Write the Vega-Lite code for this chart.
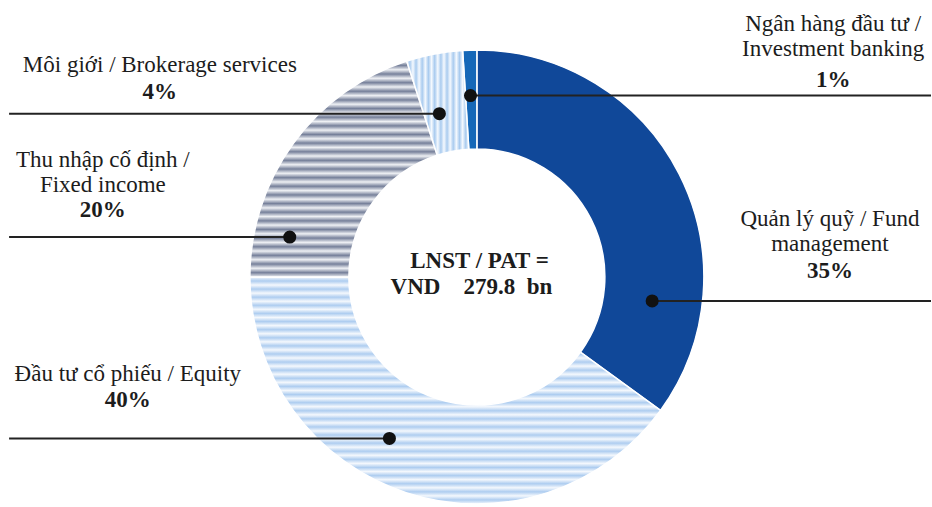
{
  "$schema": "https://vega.github.io/schema/vega-lite/v6.json",
  "width": 932,
  "height": 507,
  "autosize": {"type": "fit", "contains": "padding"},
  "padding": 0,
  "background": "white",
  "config": {"view": {"stroke": null}, "text": {"font": "Liberation Serif", "fontSize": 23, "color": "#1c1c1c"}},
  "datasets": {
    "segments": [
      {"name": ["Quản lý quỹ / Fund", "management"], "key": "Fund", "pct": 0.35, "order": 1, "side": "right", "dot_x": 0.772, "dot_y": -0.106, "label_x": 1.555, "name_y": 0.255, "pct_y": 0.026},
      {"name": ["Đầu tư cổ phiếu / Equity"], "key": "Equity", "pct": 0.40, "order": 2, "side": "left", "dot_x": -0.385, "dot_y": -0.713, "label_x": -1.537, "name_y": -0.427, "pct_y": -0.545},
      {"name": ["Thu nhập cố định /", "Fixed income"], "key": "Fixed", "pct": 0.20, "order": 3, "side": "left", "dot_x": -0.824, "dot_y": 0.176, "label_x": -1.647, "name_y": 0.518, "pct_y": 0.295},
      {"name": ["Môi giới / Brokerage services"], "key": "Brokerage", "pct": 0.04, "order": 4, "side": "left", "dot_x": -0.165, "dot_y": 0.721, "label_x": -1.396, "name_y": 0.937, "pct_y": 0.818},
      {"name": ["Ngân hàng đầu tư /", "Investment banking"], "key": "IB", "pct": 0.01, "order": 5, "side": "right", "dot_x": -0.028, "dot_y": 0.801, "label_x": 1.569, "name_y": 1.117, "pct_y": 0.871}
    ],
    "center": [
      {"line": "LNST / PAT =", "cx": 0.012, "cy": 0.07},
      {"line": "VND\u00a0\u00a0\u00a0\u00a0279.8\u00a0\u00a0bn", "cx": -0.024, "cy": -0.044}
    ]
  },
  "layer": [
    {
      "data": {"name": "segments"},
      "transform": [
        {"stack": "pct", "groupby": [], "sort": [{"field": "order", "order": "ascending"}], "as": ["t0", "t1"]},
        {"filter": "datum.key === 'Fund' || datum.key === 'IB'"}
      ],
      "mark": {"type": "arc", "outerRadius": 227, "innerRadius": 128, "stroke": "white", "strokeWidth": 1.5},
      "encoding": {
        "theta": {"field": "t0", "type": "quantitative", "scale": {"domain": [0, 1]}},
        "theta2": {"field": "t1"},
        "color": {"field": "key", "type": "nominal", "legend": null,
          "scale": {"domain": ["Fund", "IB"], "range": ["#104899", "#1668b8"]}},
        "x": {"datum": 0, "type": "quantitative", "scale": {"domain": [-2.1, 2.0], "nice": false, "zero": false}, "axis": null},
        "y": {"datum": 0, "type": "quantitative", "scale": {"domain": [-1.007, 1.223], "nice": false, "zero": false}, "axis": null}
      }
    },
    {
      "data": {"name": "segments"},
      "transform": [
        {"stack": "pct", "groupby": [], "sort": [{"field": "order", "order": "ascending"}], "as": ["t0", "t1"]},
        {"filter": "datum.key === 'Equity'"}
      ],
      "mark": {"type": "arc", "outerRadius": 227, "innerRadius": 128, "stroke": "white", "strokeWidth": 1.5,
        "fill": {"gradient": "linear", "x1": 0, "y1": 0, "x2": 0, "y2": 1, "stops": [
          {"offset": 0, "color": "#f4f8fd"}, {"offset": 0.0179, "color": "#aecdf0"}, {"offset": 0.0357, "color": "#f4f8fd"}, {"offset": 0.0536, "color": "#aecdf0"},
          {"offset": 0.0714, "color": "#f4f8fd"}, {"offset": 0.0893, "color": "#aecdf0"}, {"offset": 0.1071, "color": "#f4f8fd"}, {"offset": 0.125, "color": "#aecdf0"},
          {"offset": 0.1429, "color": "#f4f8fd"}, {"offset": 0.1607, "color": "#aecdf0"}, {"offset": 0.1786, "color": "#f4f8fd"}, {"offset": 0.1964, "color": "#aecdf0"},
          {"offset": 0.2143, "color": "#f4f8fd"}, {"offset": 0.2321, "color": "#aecdf0"}, {"offset": 0.25, "color": "#f4f8fd"}, {"offset": 0.2679, "color": "#aecdf0"},
          {"offset": 0.2857, "color": "#f4f8fd"}, {"offset": 0.3036, "color": "#aecdf0"}, {"offset": 0.3214, "color": "#f4f8fd"}, {"offset": 0.3393, "color": "#aecdf0"},
          {"offset": 0.3571, "color": "#f4f8fd"}, {"offset": 0.375, "color": "#aecdf0"}, {"offset": 0.3929, "color": "#f4f8fd"}, {"offset": 0.4107, "color": "#aecdf0"},
          {"offset": 0.4286, "color": "#f4f8fd"}, {"offset": 0.4464, "color": "#aecdf0"}, {"offset": 0.4643, "color": "#f4f8fd"}, {"offset": 0.4821, "color": "#aecdf0"},
          {"offset": 0.5, "color": "#f4f8fd"}, {"offset": 0.5179, "color": "#aecdf0"}, {"offset": 0.5357, "color": "#f4f8fd"}, {"offset": 0.5536, "color": "#aecdf0"},
          {"offset": 0.5714, "color": "#f4f8fd"}, {"offset": 0.5893, "color": "#aecdf0"}, {"offset": 0.6071, "color": "#f4f8fd"}, {"offset": 0.625, "color": "#aecdf0"},
          {"offset": 0.6429, "color": "#f4f8fd"}, {"offset": 0.6607, "color": "#aecdf0"}, {"offset": 0.6786, "color": "#f4f8fd"}, {"offset": 0.6964, "color": "#aecdf0"},
          {"offset": 0.7143, "color": "#f4f8fd"}, {"offset": 0.7321, "color": "#aecdf0"}, {"offset": 0.75, "color": "#f4f8fd"}, {"offset": 0.7679, "color": "#aecdf0"},
          {"offset": 0.7857, "color": "#f4f8fd"}, {"offset": 0.8036, "color": "#aecdf0"}, {"offset": 0.8214, "color": "#f4f8fd"}, {"offset": 0.8393, "color": "#aecdf0"},
          {"offset": 0.8571, "color": "#f4f8fd"}, {"offset": 0.875, "color": "#aecdf0"}, {"offset": 0.8929, "color": "#f4f8fd"}, {"offset": 0.9107, "color": "#aecdf0"},
          {"offset": 0.9286, "color": "#f4f8fd"}, {"offset": 0.9464, "color": "#aecdf0"}, {"offset": 0.9643, "color": "#f4f8fd"}, {"offset": 0.9821, "color": "#aecdf0"},
          {"offset": 1, "color": "#f4f8fd"}
        ]}},
      "encoding": {
        "theta": {"field": "t0", "type": "quantitative"},
        "theta2": {"field": "t1"},
        "x": {"datum": 0, "type": "quantitative"},
        "y": {"datum": 0, "type": "quantitative"}
      }
    },
    {
      "data": {"name": "segments"},
      "transform": [
        {"stack": "pct", "groupby": [], "sort": [{"field": "order", "order": "ascending"}], "as": ["t0", "t1"]},
        {"filter": "datum.key === 'Fixed'"}
      ],
      "mark": {"type": "arc", "outerRadius": 227, "innerRadius": 128, "stroke": "white", "strokeWidth": 1.5,
        "fill": {"gradient": "linear", "x1": 0, "y1": 0, "x2": 0, "y2": 1, "stops": [
          {"offset": 0, "color": "#eef0f4"}, {"offset": 0.02, "color": "#76809a"}, {"offset": 0.04, "color": "#eef0f4"}, {"offset": 0.06, "color": "#76809a"},
          {"offset": 0.08, "color": "#eef0f4"}, {"offset": 0.1, "color": "#76809a"}, {"offset": 0.12, "color": "#eef0f4"}, {"offset": 0.14, "color": "#76809a"},
          {"offset": 0.16, "color": "#eef0f4"}, {"offset": 0.18, "color": "#76809a"}, {"offset": 0.2, "color": "#eef0f4"}, {"offset": 0.22, "color": "#76809a"},
          {"offset": 0.24, "color": "#eef0f4"}, {"offset": 0.26, "color": "#76809a"}, {"offset": 0.28, "color": "#eef0f4"}, {"offset": 0.3, "color": "#76809a"},
          {"offset": 0.32, "color": "#eef0f4"}, {"offset": 0.34, "color": "#76809a"}, {"offset": 0.36, "color": "#eef0f4"}, {"offset": 0.38, "color": "#76809a"},
          {"offset": 0.4, "color": "#eef0f4"}, {"offset": 0.42, "color": "#76809a"}, {"offset": 0.44, "color": "#eef0f4"}, {"offset": 0.46, "color": "#76809a"},
          {"offset": 0.48, "color": "#eef0f4"}, {"offset": 0.5, "color": "#76809a"}, {"offset": 0.52, "color": "#eef0f4"}, {"offset": 0.54, "color": "#76809a"},
          {"offset": 0.56, "color": "#eef0f4"}, {"offset": 0.58, "color": "#76809a"}, {"offset": 0.6, "color": "#eef0f4"}, {"offset": 0.62, "color": "#76809a"},
          {"offset": 0.64, "color": "#eef0f4"}, {"offset": 0.66, "color": "#76809a"}, {"offset": 0.68, "color": "#eef0f4"}, {"offset": 0.7, "color": "#76809a"},
          {"offset": 0.72, "color": "#eef0f4"}, {"offset": 0.74, "color": "#76809a"}, {"offset": 0.76, "color": "#eef0f4"}, {"offset": 0.78, "color": "#76809a"},
          {"offset": 0.8, "color": "#eef0f4"}, {"offset": 0.82, "color": "#76809a"}, {"offset": 0.84, "color": "#eef0f4"}, {"offset": 0.86, "color": "#76809a"},
          {"offset": 0.88, "color": "#eef0f4"}, {"offset": 0.9, "color": "#76809a"}, {"offset": 0.92, "color": "#eef0f4"}, {"offset": 0.94, "color": "#76809a"},
          {"offset": 0.96, "color": "#eef0f4"}, {"offset": 0.98, "color": "#76809a"}, {"offset": 1, "color": "#eef0f4"}
        ]}},
      "encoding": {
        "theta": {"field": "t0", "type": "quantitative"},
        "theta2": {"field": "t1"},
        "x": {"datum": 0, "type": "quantitative"},
        "y": {"datum": 0, "type": "quantitative"}
      }
    },
    {
      "data": {"name": "segments"},
      "transform": [
        {"stack": "pct", "groupby": [], "sort": [{"field": "order", "order": "ascending"}], "as": ["t0", "t1"]},
        {"filter": "datum.key === 'Brokerage'"}
      ],
      "mark": {"type": "arc", "outerRadius": 227, "innerRadius": 128, "stroke": "white", "strokeWidth": 1.5,
        "fill": {"gradient": "linear", "x1": 0, "y1": 0, "x2": 1, "y2": 0, "stops": [
          {"offset": 0, "color": "#f5f9fe"}, {"offset": 0.05, "color": "#a9cbef"}, {"offset": 0.1, "color": "#f5f9fe"}, {"offset": 0.15, "color": "#a9cbef"},
          {"offset": 0.2, "color": "#f5f9fe"}, {"offset": 0.25, "color": "#a9cbef"}, {"offset": 0.3, "color": "#f5f9fe"}, {"offset": 0.35, "color": "#a9cbef"},
          {"offset": 0.4, "color": "#f5f9fe"}, {"offset": 0.45, "color": "#a9cbef"}, {"offset": 0.5, "color": "#f5f9fe"}, {"offset": 0.55, "color": "#a9cbef"},
          {"offset": 0.6, "color": "#f5f9fe"}, {"offset": 0.65, "color": "#a9cbef"}, {"offset": 0.7, "color": "#f5f9fe"}, {"offset": 0.75, "color": "#a9cbef"},
          {"offset": 0.8, "color": "#f5f9fe"}, {"offset": 0.85, "color": "#a9cbef"}, {"offset": 0.9, "color": "#f5f9fe"}, {"offset": 0.95, "color": "#a9cbef"},
          {"offset": 1, "color": "#f5f9fe"}
        ]}},
      "encoding": {
        "theta": {"field": "t0", "type": "quantitative"},
        "theta2": {"field": "t1"},
        "x": {"datum": 0, "type": "quantitative"},
        "y": {"datum": 0, "type": "quantitative"}
      }
    },
    {
      "data": {"name": "segments"},
      "transform": [{"filter": "datum.side === 'left'"}],
      "mark": {"type": "rule", "strokeWidth": 2, "color": "#222222"},
      "encoding": {
        "x": {"field": "dot_x", "type": "quantitative"},
        "x2": {"datum": -2.06},
        "y": {"field": "dot_y", "type": "quantitative"}
      }
    },
    {
      "data": {"name": "segments"},
      "transform": [{"filter": "datum.side === 'right'"}],
      "mark": {"type": "rule", "strokeWidth": 2, "color": "#222222"},
      "encoding": {
        "x": {"field": "dot_x", "type": "quantitative"},
        "x2": {"datum": 2.0},
        "y": {"field": "dot_y", "type": "quantitative"}
      }
    },
    {
      "data": {"name": "segments"},
      "mark": {"type": "circle", "size": 170, "opacity": 1, "color": "#111111"},
      "encoding": {
        "x": {"field": "dot_x", "type": "quantitative"},
        "y": {"field": "dot_y", "type": "quantitative"}
      }
    },
    {
      "data": {"name": "segments"},
      "mark": {"type": "text", "align": "center", "baseline": "middle", "lineHeight": 25},
      "encoding": {
        "x": {"field": "label_x", "type": "quantitative"},
        "y": {"field": "name_y", "type": "quantitative"},
        "text": {"field": "name"}
      }
    },
    {
      "data": {"name": "segments"},
      "mark": {"type": "text", "align": "center", "baseline": "middle", "fontWeight": "bold"},
      "encoding": {
        "x": {"field": "label_x", "type": "quantitative"},
        "y": {"field": "pct_y", "type": "quantitative"},
        "text": {"field": "pct", "type": "quantitative", "format": ".0%"}
      }
    },
    {
      "data": {"name": "center"},
      "mark": {"type": "text", "align": "center", "baseline": "middle", "fontWeight": "bold"},
      "encoding": {
        "x": {"field": "cx", "type": "quantitative"},
        "y": {"field": "cy", "type": "quantitative"},
        "text": {"field": "line"}
      }
    }
  ]
}
